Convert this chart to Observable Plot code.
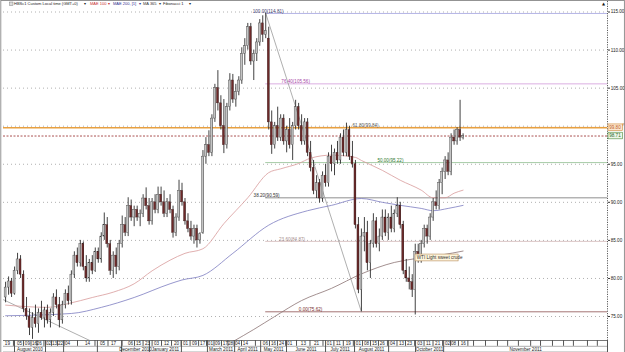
<!DOCTYPE html>
<html><head><meta charset="utf-8">
<script src="https://cdn.jsdelivr.net/npm/d3@7"></script>
<script src="https://cdn.jsdelivr.net/npm/@observablehq/plot@0.6"></script>
<style>
html,body{margin:0;padding:0;background:#fff;}
#chart{width:625px;height:352px;overflow:hidden;}
svg{display:block;}
</style></head><body><div id="chart"></div>
<script>
// ---- OHLC bars (one bar per slot) ----
const open = [77.5,78.8,79.6,78.0,81.0,82.5,80.5,76.0,75.0,73.5,
74.8,74.0,75.5,74.8,75.8,74.5,75.5,77.5,76.5,74.5,
76.5,78.0,77.0,80.5,83.0,82.0,84.5,81.5,80.0,82.0,
81.0,83.5,82.5,85.5,87.0,84.5,81.0,83.0,81.5,84.5,
87.0,86.0,89.5,88.0,89.0,88.0,88.5,90.5,89.5,87.5,
90.0,89.0,91.0,90.0,88.5,90.0,89.0,86.0,88.0,91.5,
90.0,87.5,86.5,85.5,86.5,85.0,86.0,96.0,97.5,96.5,
101.0,105.0,103.0,100.0,97.5,102.5,106.0,103.5,104.5,106.0,
109.5,110.5,113.0,108.5,109.5,111.0,113.5,112.0,111.5,100.5,
97.5,100.0,98.5,101.0,98.0,99.5,97.5,100.0,102.5,100.0,
98.0,100.5,96.5,94.5,91.5,92.5,90.5,93.5,92.5,96.0,
95.0,96.5,95.5,98.5,96.5,99.5,96.0,95.0,87.0,78.5,
85.5,86.0,82.0,84.5,87.5,84.5,85.5,88.0,86.0,88.0,
86.5,88.5,89.5,87.0,81.0,80.0,79.5,78.5,83.5,82.5,
84.5,86.5,85.5,88.0,90.0,89.5,92.5,94.0,95.5,94.0,
98.5,98.0,99.5,98.5];
const high = [79.5,80.2,80.0,81.5,83.3,83.0,81.0,77.5,76.0,75.5,
76.5,76.0,77.0,76.2,76.5,76.0,78.0,78.5,77.5,77.0,
78.5,79.0,81.0,83.5,84.0,85.0,84.8,83.0,82.5,83.0,
84.0,84.0,86.0,88.6,88.0,85.0,83.5,84.0,85.0,88.2,
88.0,90.6,90.3,89.5,89.5,89.0,91.0,91.9,90.5,90.5,
91.0,92.0,92.0,91.5,90.5,91.0,89.5,88.5,92.9,92.5,
90.5,88.5,87.5,87.0,87.0,86.0,96.8,98.5,99.4,101.5,
105.5,107.3,104.0,103.5,103.0,106.9,106.8,105.5,106.5,110.3,
111.5,113.5,113.5,110.0,111.5,114.0,114.5,114.81,113.0,102.0,
100.5,102.5,101.5,101.5,100.0,101.0,100.5,103.4,103.0,101.5,
101.0,101.0,98.0,95.5,93.5,93.0,94.0,95.0,96.5,97.5,
97.0,98.0,99.0,99.5,100.4,100.0,98.0,95.5,88.0,86.5,
88.0,87.5,85.0,88.5,88.0,86.5,89.0,89.0,88.5,89.5,
89.0,90.6,90.0,87.5,82.5,81.5,80.5,84.5,84.5,85.0,
87.0,87.0,88.5,90.5,91.5,93.0,94.5,96.0,96.5,99.0,
99.5,99.8,103.4,99.0];
const low = [76.8,77.8,77.5,77.8,80.5,80.0,75.5,74.5,72.5,72.0,
73.5,72.8,74.5,73.5,74.0,73.5,75.0,76.0,73.5,74.0,
76.0,76.5,76.5,80.0,81.5,81.5,81.0,79.5,79.5,80.5,
80.8,82.0,82.0,85.0,84.0,80.4,80.0,80.5,81.0,84.0,
85.5,85.5,87.5,86.8,87.5,86.8,88.0,89.0,87.0,87.0,
88.5,88.5,89.5,88.0,88.0,88.5,85.3,85.5,87.5,89.5,
87.0,86.0,85.0,84.5,84.0,84.5,85.8,95.0,96.0,96.0,
100.5,102.0,99.5,96.4,97.0,102.0,103.0,102.5,104.0,105.5,
108.0,110.0,108.0,106.0,108.5,110.5,111.0,111.5,99.5,96.3,
97.0,98.0,98.0,97.5,96.5,97.0,95.5,99.5,99.5,97.5,
97.5,96.0,94.0,91.0,90.5,89.9,90.0,92.0,92.0,94.0,
93.5,95.0,95.0,96.0,96.0,95.5,94.5,86.5,78.0,75.62,
83.5,81.0,80.0,84.0,84.0,83.5,85.0,85.5,85.0,86.0,
86.0,88.0,86.5,80.5,79.5,78.5,77.5,75.2,82.0,82.0,
84.0,84.5,85.0,87.5,89.0,89.0,91.0,93.0,93.5,93.5,
97.5,97.5,98.0,98.2];
const close = [78.8,79.6,78.0,81.0,82.5,80.5,76.0,75.0,73.5,74.8,
74.0,75.5,74.8,75.8,74.5,75.5,77.5,76.5,74.5,76.5,
78.0,77.0,80.5,83.0,82.0,84.5,81.5,80.0,82.0,81.0,
83.5,82.5,85.5,87.0,84.5,81.0,83.0,81.5,84.5,87.0,
86.0,89.5,88.0,89.0,88.0,88.5,90.5,89.5,87.5,90.0,
89.0,91.0,90.0,88.5,90.0,89.0,86.0,88.0,91.5,90.0,
87.5,86.5,85.5,86.5,85.0,85.8,96.0,97.5,96.5,101.0,
105.0,103.0,100.0,97.5,102.5,106.0,103.5,104.5,106.0,109.5,
110.5,113.0,108.5,109.5,111.0,113.5,112.0,112.5,100.5,97.5,
100.0,98.5,101.0,98.0,99.5,97.5,100.0,102.5,100.0,98.0,
100.5,96.5,94.5,91.5,92.5,90.5,93.5,92.5,96.0,95.0,
96.5,95.5,98.5,96.5,99.5,96.0,95.0,87.0,78.5,85.5,
86.0,82.0,84.5,87.5,84.5,85.5,88.0,86.0,88.0,86.5,
88.5,89.5,87.0,81.0,80.0,79.5,78.5,83.5,82.5,84.5,
86.5,85.5,88.0,90.0,89.5,92.5,94.0,95.5,94.0,98.5,
98.0,99.5,98.5,98.71];

// ---- moving averages (bar slot, price) ----
const mae100Slot = [0,7,14,21,29,36,43,49,55,60,66,73,81,88,92,98,102,109,117,119,126,132,139,143,147,150,153];
const mae100Val  = [76.5,76.3,76.2,76.7,77.5,78.2,79.3,81.0,82.4,83.3,83.9,87.2,90.6,93.9,94.4,95.1,95.8,96.2,95.9,95.5,94.2,92.9,91.6,90.6,90.6,91.2,91.6];
const mae200Slot = [0,22,32,43,55,59,66,76,88,101,109,119,126,132,139,143,148,153];
const mae200Val  = [75.1,75.4,76.2,77.5,79.3,79.8,80.4,83.3,87.0,88.9,89.6,90.5,90.0,89.6,89.2,88.9,89.2,89.6];
const ma365Slot  = [76,83,90,99,109,119,130,137,146,153];
const ma365Val   = [71.7,73.3,75.0,77.1,78.7,80.6,82.1,82.6,83.1,83.6];

// ---- Fibonacci retracement ----
const fibLevels = ["100.00","76.40","61.80","50.00","38.20","23.60","0.00"];
const fibPrices = [114.81,105.56,99.84,95.22,90.59,84.87,75.62];
const fibHighSlot = 87, fibLowSlot = 119;
const fibLabelSlot = [87.8,97,120.4,128.7,87.3,95.8,102];
const fibLineColors = ["#b4b4e6","#dcaee2","#e2a458","#a6cba6","#8e8e8e","#dcc6c6","#a47474"];
const fibTextColors = ["#3c3c70","#a848a8","#555555","#2f7a2f","#333333","#a89090","#7a3030"];
const earlierTrend = [[-0.7,77.2],[29.5,71.6]];

// ---- current levels ----
const levelOrange = 99.80, levelLast = 98.71;

// ---- axes ----
const priceTicks = [115,110,105,100,95,90,85,80,75];
const priceLabels = [115,110,105,95,90,85,80,75];
const dayPos = [0.6,4.65,7.3,9.7,11.3,14.35,16.35,18.4,20.7,27.4,32.4,36.1,41.8,44.45,47.5,50.5,53.8,57.2,60.2,63.2,65.9,68.5,70.9,73.5,75.2,77.6,80.2,86.9,89.6,92.3,95,99.6,104,108.3,111.3,114.6,118,120.7,123.4,126,129.4,132.4,135.1,138.5,141.4,144.5,147.8,149.8,153.1];
const dayLabels = ["19","05","09","16","26","02","13","22","04","14","05","17","06","15","23","03","12","20","01","09","17","01","09","17","28","04","14","06","16","24","01","13","21","01","11","19","01","08","15","26","04","13","23","03","11","21","02","08","16"];
const futureCells = [156.5,160.5,164.5,167.9,171.5,175.6,178.9,182.9,186.6,189.9,194.6,197.9];
const monthStart = [2.98,13.35,19.4,30.7,38.8,48.1,58.8,67.5,76.6,85.3,93.95,107,116.7,128.1,137.1,146.5];
const monthLabels = ["August 2010","","","","December 2010","January 2011","","March 2011","April 2011","May 2011","June 2011","July 2011","August 2011","","October 2011","November 2011"];
const annotation = {slot: 137.1, price: 82.69, text: "WTI Light sweet crude"};

// ---- build tables ----
const xMin = -0.7, xMax = 201.3, yMin = 71.85, yMax = 116.38;
const bars = open.map((o, i) => ({i, open: o, high: high[i], low: low[i], close: close[i], up: close[i] >= o}));
const mae100 = mae100Slot.map((s, k) => ({i: s, p: mae100Val[k]}));
const mae200 = mae200Slot.map((s, k) => ({i: s, p: mae200Val[k]}));
const ma365 = ma365Slot.map((s, k) => ({i: s, p: ma365Val[k]}));
const fib = fibLevels.map((l, k) => ({level: l, p: fibPrices[k], label: `${l}(${fibPrices[k].toFixed(2)})`, lx: fibLabelSlot[k], lc: fibLineColors[k], tc: fibTextColors[k]}));
const fibDiag = [{i: fibHighSlot, p: fibPrices[0]}, {i: fibLowSlot, p: fibPrices[6]}];
const trend2 = earlierTrend.map(([i, p]) => ({i, p}));
const days = dayPos.map((p, k) => ({i: p, d: dayLabels[k]}));
const dayDiv = dayPos.slice(1).map((p, k) => (p + dayPos[k]) / 2).concat([(dayPos[dayPos.length-1] + 1.5)], futureCells);
const months = monthStart.map((s, k) => ({i: (s + (k + 1 < monthStart.length ? monthStart[k+1] : xMax)) / 2, m: monthLabels[k]}));

const F = "'Liberation Sans', Arial, sans-serif";
const FS = 4.6;

const chart = Plot.plot({
  width: 625, height: 352,
  marginLeft: 3, marginRight: 18, marginTop: 1, marginBottom: 12,
  style: {fontFamily: F, fontSize: FS + "px", background: "#fff", color: "#222"},
  x: {type: "linear", domain: [xMin, xMax], axis: null},
  y: {type: "linear", domain: [yMin, yMax], axis: null},
  marks: [
    Plot.gridY(priceTicks, {stroke: "#b0b0b0", strokeOpacity: 1, strokeDasharray: "1,3"}),
    // fibonacci levels
    Plot.ruleY(fib, {y: "p", x1: () => fibHighSlot, x2: () => xMax, stroke: "lc", strokeWidth: 1}),
    Plot.ruleY([levelOrange], {stroke: "#e8a040", strokeWidth: 1.5}),
    Plot.ruleY([levelLast], {stroke: "#a03c3c", strokeDasharray: "2,1.5", strokeWidth: 0.9}),
    Plot.line(fibDiag, {x: "i", y: "p", stroke: "#9a9a9a", strokeWidth: 0.8}),
    Plot.line(trend2, {x: "i", y: "p", stroke: "#9a9a9a", strokeWidth: 0.8, clip: true}),
    // moving averages
    Plot.line(ma365, {x: "i", y: "p", stroke: "#8c7474", strokeWidth: 0.8, curve: "monotone-x", clip: true}),
    Plot.line(mae200, {x: "i", y: "p", stroke: "#7c7cc0", strokeWidth: 0.8, curve: "monotone-x"}),
    Plot.line(mae100, {x: "i", y: "p", stroke: "#d89a9a", strokeWidth: 0.8, curve: "monotone-x"}),
    // candles
    Plot.ruleX(bars, {x: "i", y1: "low", y2: "high", stroke: "#2c2c2c", strokeWidth: 0.9}),
    Plot.rect(bars, {x1: d => d.i - 0.32, x2: d => d.i + 0.32, y1: "open", y2: "close",
      fill: d => d.up ? "#c4c4c4" : "#6e2a2a", stroke: d => d.up ? "#3a3a3a" : "#3a1c1c", strokeWidth: 0.4}),
    // fib labels
    Plot.text(fib, {x: "lx", y: "p", text: "label", fill: "tc", fontSize: FS, lineAnchor: "bottom", dy: -0.6}),
    // annotation box
    Plot.rect([annotation], {x1: d => d.slot, x2: d => d.slot + 14.4, y1: d => d.price - 0.45, y2: d => d.price + 0.45, fill: "#fff6dc", stroke: "#b48a5a", strokeWidth: 0.6}),
    Plot.text([annotation], {x: "slot", y: "price", text: "text", textAnchor: "start", dx: 1.2, fontSize: FS, fill: "#333"}),
    // right price axis
    Plot.ruleX([xMax], {stroke: "#333", strokeDasharray: "1.2,1.2", strokeWidth: 0.8}),
    Plot.axisY(priceLabels, {anchor: "right", tickFormat: d3.format(".2f"), tickSize: 2, tickPadding: 1.2, label: null, fontSize: FS, stroke: "#333"}),
    // bottom date axis
    Plot.ruleY([yMin], {stroke: "#555", strokeWidth: 0.8}),
    Plot.ruleY([yMin], {dy: 5.8, stroke: "#777", strokeWidth: 0.6}),
    Plot.ruleY([yMin], {dy: 11.5, stroke: "#777", strokeWidth: 0.6}),
    Plot.axisX(dayDiv, {anchor: "bottom", tickSize: 5.8, tickFormat: () => "", stroke: "#555", label: null}),
    Plot.axisX(monthStart.concat([xMax]), {anchor: "bottom", tickSize: 12, tickFormat: () => "", stroke: "#555", label: null}),
    Plot.text(days, {x: "i", text: "d", frameAnchor: "bottom", dy: 3.1, lineAnchor: "middle", fontSize: FS, fill: "#222"}),
    Plot.text(months, {x: "i", text: "m", frameAnchor: "bottom", dy: 8.9, lineAnchor: "middle", fontSize: FS, fill: "#222"})
  ]
});

document.getElementById("chart").appendChild(chart);

// ---- decorations using the plot's own scales ----
const svg = d3.select(chart);
const ys = chart.scale("y");
const tags = [
  {p: levelOrange, t: "99.80", fill: "#fbe6cf", stroke: "#d08a3a", tc: "#c0601c"},
  {p: levelLast, t: "98.71", fill: "#eef6e6", stroke: "#4a8a3a", tc: "#2c6a2c"}
];
for (const tg of tags) {
  const y = ys.apply(tg.p);
  svg.append("rect").attr("x", 608).attr("y", y - 3.3).attr("width", 14.5).attr("height", 6.6)
    .attr("fill", tg.fill).attr("stroke", tg.stroke).attr("stroke-width", 0.6);
  svg.append("text").attr("x", 609.2).attr("y", y).attr("dy", "0.35em").attr("font-size", FS)
    .attr("text-anchor", "start").attr("font-family", F).attr("fill", tg.tc).text(tg.t);
}
svg.append("text").attr("x", 622.6).attr("y", ys.apply(levelOrange) - 1.5).attr("font-size", 4.2)
  .attr("text-anchor", "start").attr("font-family", F).attr("fill", "#c0601c").text("P");
svg.append("text").attr("x", 602).attr("y", 5).attr("font-size", 4).attr("text-anchor", "start")
  .attr("font-family", "DejaVu Sans").attr("fill", "#111").text("▲");

// header line
const hdr = svg.append("text").attr("y", 5.2).attr("font-size", 4.0).attr("font-family", F).attr("text-anchor", "start");
const parts = [
  [14, "HBSc1 Custom Local time (GMT+0)", "#222"], [83.5, "▾", "#222"],
  [90, "MAE 100", "#c83030"], [108, "▾", "#c83030"],
  [113, "MAE 200, [1]", "#303090"], [139, "▾", "#303090"],
  [143, "MA 365", "#333"], [159, "▾", "#333"],
  [163, "Fibonacci 1", "#222"], [189, "▾", "#222"]
];
for (const [x, t, c] of parts) hdr.append("tspan").attr("x", x).attr("fill", c).text(t);
svg.append("rect").attr("x", 9.5).attr("y", 2).attr("width", 3.5).attr("height", 3.5)
  .attr("fill", "#ddd").attr("stroke", "#666").attr("stroke-width", 0.4);
// outer border
svg.append("rect").attr("x", 0.8).attr("y", 0.5).attr("width", 623.6).attr("height", 355)
  .attr("fill", "none").attr("stroke", "#888").attr("stroke-width", 0.9);
</script>
</body></html>
